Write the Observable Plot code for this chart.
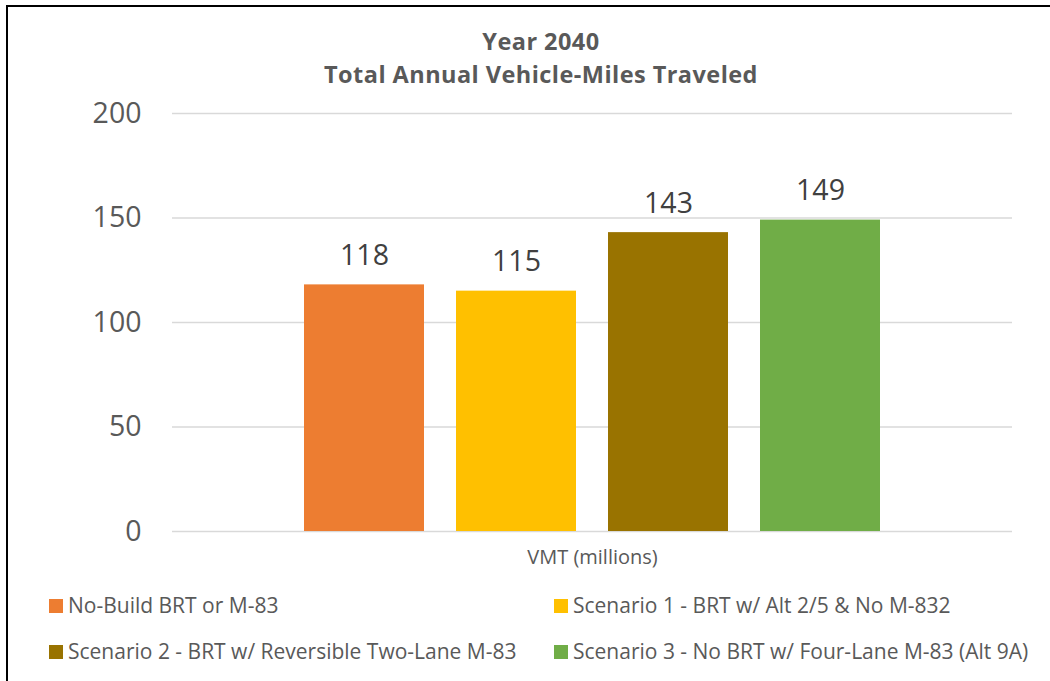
<!DOCTYPE html>
<html>
<head>
<meta charset="utf-8">
<script src="https://cdn.jsdelivr.net/npm/d3@7"></script>
<script src="https://cdn.jsdelivr.net/npm/@observablehq/plot@0.6"></script>
<style>
  html, body { margin: 0; padding: 0; background: #fff; }
  #wrap { position: relative; width: 1050px; height: 681px; overflow: hidden; font-family: "Open Sans", sans-serif; }
  #border { position: absolute; left: 6px; top: 5px; width: 1060px; height: 700px; border-left: 2px solid #000; border-top: 2px solid #000; box-sizing: border-box; }
  #title { position: absolute; left: 241px; width: 600px; top: 25px; text-align: center; font-weight: bold; font-size: 23.5px; letter-spacing: 0.45px; line-height: 33px; color: #595959; }
  #chart { position: absolute; left: 0; top: 0; }
  .leg { position: absolute; font-size: 21px; color: #595959; white-space: nowrap; line-height: 22px; }
  .leg span.sw { display: inline-block; width: 14px; height: 14px; margin-right: 5px; vertical-align: 0px; }
</style>
</head>
<body>
<div id="wrap">
  <div id="chart"></div>
  <div id="title">Year 2040<br>Total Annual Vehicle-Miles Traveled</div>
  <div id="legend"></div>
  <div id="border"></div>
</div>
<script>
const category = "VMT (millions)";
const series = [
  "No-Build BRT or M-83",
  "Scenario 1 - BRT w/ Alt 2/5 & No M-832",
  "Scenario 2 - BRT w/ Reversible Two-Lane M-83",
  "Scenario 3 - No BRT w/ Four-Lane M-83 (Alt 9A)"
];
const values = [118, 115, 143, 149];
const colors = ["#ED7D31", "#FFC000", "#997300", "#70AD47"];
const yTicks = [0, 50, 100, 150, 200];

const data = series.map((s, i) => ({series: s, value: values[i]}));

const chart = Plot.plot({
  width: 1050,
  height: 580,
  marginLeft: 172,
  marginRight: 38,
  marginTop: 113,
  marginBottom: 49,
  style: {fontFamily: "'Open Sans', sans-serif", background: "transparent"},
  x: {type: "band", domain: series, range: [303, 880], paddingInner: 0.213, paddingOuter: 0, axis: null},
  y: {domain: [0, 200], ticks: yTicks},
  color: {domain: series, range: colors},
  marks: [
    Plot.gridY(yTicks, {stroke: "#d9d9d9", strokeOpacity: 1, strokeWidth: 1.3}),
    Plot.axisY(yTicks, {tickSize: 0, tickPadding: 31, fontSize: 28.5, fill: "#595959", label: null}),
    Plot.barY(data, {x: "series", y: "value", fill: "series"}),
    Plot.text(data, {x: "series", y: "value", text: d => String(d.value), dy: -29, fontSize: 28.5, fill: "#404040"}),
    Plot.text([category], {frameAnchor: "bottom", text: d => d, dy: 32, fontSize: 20, fill: "#595959"})
  ]
});
document.getElementById("chart").appendChild(chart);

const legend = document.getElementById("legend");
const pos = [[49, 594], [554, 594], [49, 640], [554, 640]];
series.forEach((s, i) => {
  const d = document.createElement("div");
  d.className = "leg";
  d.style.left = pos[i][0] + "px";
  d.style.top = pos[i][1] + "px";
  d.innerHTML = `<span class="sw" style="background:${colors[i]}"></span>` + s.replace(/&/g, "&amp;");
  legend.appendChild(d);
});
</script>
</body>
</html>
